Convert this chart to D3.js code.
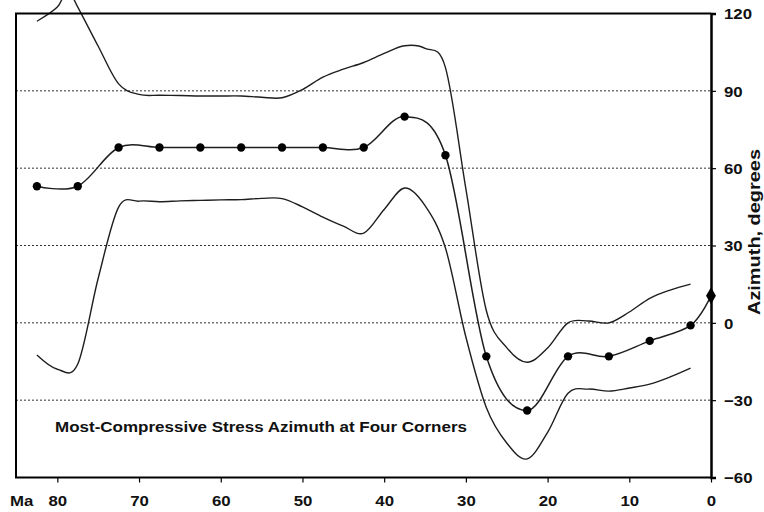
<!DOCTYPE html>
<html>
<head>
<meta charset="utf-8">
<script src="https://cdn.jsdelivr.net/npm/d3@7/dist/d3.min.js"></script>
<style>
  html, body { margin: 0; padding: 0; background: #fff; }
  text { font-family: "Liberation Sans", Arial, sans-serif; font-weight: bold; fill: #111; }
</style>
</head>
<body>
<svg id="chart" width="764" height="512"></svg>
<script>
// ---- data ----
const maMid = [82.5, 77.5, 72.5, 67.5, 62.5, 57.5, 52.5, 47.5, 42.5, 37.5, 32.5, 27.5, 22.5, 17.5, 12.5, 7.5, 2.5, 0];
const azMid = [53, 53, 68, 68, 68, 68, 68, 68, 68, 80, 65, -13, -34, -13, -13, -7, -1, 10.5];

const maUpper = [82.5, 80, 78.75, 77.5, 75, 72.5, 70, 67.5, 65, 62.5, 60, 57.5, 55, 52.5, 50, 47.5, 45, 42.5, 40, 37.5, 35, 32.5, 30, 27.5, 25, 22.5, 20, 17.5, 15, 12.5, 10, 7.5, 5, 2.5];
const azUpper = [117, 122.5, 129, 122.5, 107.3, 92.7, 88.6, 88.3, 88.2, 88, 88, 88, 87.5, 87.3, 90.5, 95.3, 98.4, 101, 104.5, 107.5, 106.5, 99, 52, 4.8, -9.6, -15.3, -9.8, 0, 0.7, 0, 4.2, 9.5, 12.7, 15];

const maLower = [82.5, 80, 77.5, 75, 72.5, 70, 67.5, 65, 62.5, 60, 57.5, 55, 52.5, 50, 47.5, 45, 42.5, 40, 37.5, 35, 32.5, 30, 27.5, 25, 22.5, 20, 17.5, 15, 12.5, 10, 7.5, 5, 2.5];
const azLower = [-12.5, -18, -16, 17.3, 44.9, 47.2, 47, 47.3, 47.5, 47.7, 47.8, 48.3, 48.2, 45, 41, 37.5, 34.8, 44, 52.3, 45.5, 29, -5.5, -32.8, -46.6, -52.8, -42.5, -27.3, -25.7, -26.5, -25.3, -23.8, -21, -17.6];

const xTicks = [80, 70, 60, 50, 40, 30, 20, 10, 0];
const yTicks = [120, 90, 60, 30, 0, -30, -60];
const gridValues = [90, 60, 30, 0, -30];
const titleText = "Most-Compressive Stress Azimuth at Four Corners";
const xUnit = "Ma";
const yLabel = "Azimuth, degrees";

// ---- layout ----
const svg = d3.select("#chart");
const pLeft = 16, pRight = 711, pTop = 13.5, pBottom = 477.5;
const x = d3.scaleLinear().domain([85.06, 0]).range([pLeft, pRight]);
const y = d3.scaleLinear().domain([-60, 120]).range([pBottom, pTop]);
const sx = 1.12; // horizontal glyph stretch seen in the reference

svg.append("rect").attr("width", 764).attr("height", 512).attr("fill", "#fff");

// gridlines
svg.append("g").selectAll("line").data(gridValues).join("line")
  .attr("x1", pLeft).attr("x2", pRight)
  .attr("y1", d => y(d)).attr("y2", d => y(d))
  .attr("stroke", "#333").attr("stroke-width", 1)
  .attr("stroke-dasharray", "2,2");

// curves
const line = d3.line().curve(d3.curveCardinal.tension(0))
  .x(d => x(d[0])).y(d => y(d[1]));
const stroke = "#1e1e1e";
svg.append("path").datum(d3.zip(maUpper, azUpper)).attr("d", line)
  .attr("fill", "none").attr("stroke", stroke).attr("stroke-width", 1.4);
svg.append("path").datum(d3.zip(maLower, azLower)).attr("d", line)
  .attr("fill", "none").attr("stroke", stroke).attr("stroke-width", 1.4);
svg.append("path").datum(d3.zip(maMid, azMid)).attr("d", line)
  .attr("fill", "none").attr("stroke", stroke).attr("stroke-width", 1.5);

// frame
const frame = svg.append("g").attr("stroke", "#000").attr("stroke-width", 2).attr("fill", "none");
frame.append("line").attr("x1", pLeft - 1).attr("x2", pRight).attr("y1", pTop).attr("y2", pTop);
frame.append("line").attr("x1", pLeft).attr("x2", pLeft).attr("y1", pTop).attr("y2", pBottom);
frame.append("line").attr("x1", pLeft - 1).attr("x2", pRight).attr("y1", pBottom).attr("y2", pBottom);

// right axis
const yAxis = d3.axisRight(y).tickValues(yTicks).tickSize(5).tickPadding(7).tickFormat(d3.format("d"));
const gy = svg.append("g").attr("transform", `translate(${pRight},0)`).call(yAxis);
gy.select(".domain").attr("stroke", "#000").attr("stroke-width", 2.5);
gy.selectAll(".tick line").attr("stroke", "#000").attr("stroke-width", 1.2);
gy.selectAll(".tick text")
  .attr("font-size", 15).attr("font-family", "Liberation Sans, Arial, sans-serif")
  .attr("font-weight", "bold").attr("fill", "#111")
  .attr("x", null).attr("dy", "0.36em")
  .attr("transform", `translate(13,0) scale(${sx},1)`);

// bottom axis
const xAxis = d3.axisBottom(x).tickValues(xTicks).tickSize(5).tickPadding(10).tickFormat(d3.format("d"));
const gx = svg.append("g").attr("transform", `translate(0,${pBottom})`).call(xAxis);
gx.select(".domain").remove();
gx.selectAll(".tick line").attr("stroke", "#000").attr("stroke-width", 1.2);
gx.selectAll(".tick text")
  .attr("font-size", 15).attr("font-family", "Liberation Sans, Arial, sans-serif")
  .attr("font-weight", "bold").attr("fill", "#111")
  .attr("y", null).attr("dy", null)
  .attr("transform", `translate(0,28) scale(${sx},1)`);

// markers (drawn over the axis, as in the reference)
const midPts = d3.zip(maMid, azMid);
svg.append("g").selectAll("path").data(midPts).join("path")
  .attr("transform", d => `translate(${x(d[0])},${y(d[1])})`)
  .attr("d", (d, i) => i === midPts.length - 1
      ? d3.symbol(d3.symbolDiamond, 85)()
      : d3.symbol(d3.symbolCircle, 55)())
  .attr("fill", "#000");

// unit label
svg.append("text").text(xUnit)
  .attr("font-size", 15)
  .attr("transform", `translate(10,506) scale(${sx},1)`);

// title
svg.append("text").text(titleText)
  .attr("x", 55).attr("y", 432)
  .attr("font-size", 15)
  .attr("textLength", 412).attr("lengthAdjust", "spacingAndGlyphs");

// y label
svg.append("text").text(yLabel)
  .attr("font-size", 16)
  .attr("text-anchor", "middle")
  .attr("textLength", 166).attr("lengthAdjust", "spacingAndGlyphs")
  .attr("transform", "translate(760,232) rotate(-90)");
</script>
</body>
</html>
